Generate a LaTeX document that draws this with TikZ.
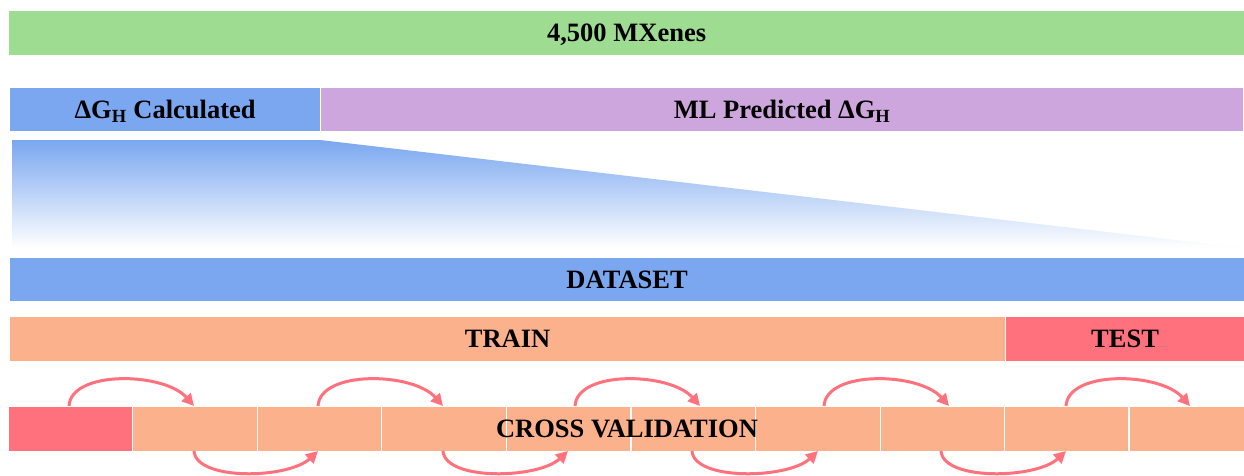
\documentclass[tikz,border=0pt]{standalone}
\usepackage{fontspec}
\setmainfont{Liberation Serif}
\usetikzlibrary{arrows.meta}
\definecolor{cgreen}{RGB}{158,220,146}
\definecolor{cblue}{RGB}{122,167,240}
\definecolor{cpurple}{RGB}{204,166,220}
\definecolor{corange}{RGB}{251,177,140}
\definecolor{cred}{RGB}{255,114,125}
\tikzset{
  lbl/.style={font=\fontsize{26.5}{30}\selectfont\bfseries, text=black, text height=17.5pt, text depth=0pt},
  bar/.style={rectangle, inner sep=0pt, draw=white, line width=1.2pt, anchor=north west, lbl},
  cvarrow/.style={draw=cred, line width=3pt, -{Triangle[length=12pt,width=12pt]}},
}
\begin{document}
\begin{tikzpicture}[x=1pt,y=-1pt]
\useasboundingbox[fill=white] (0,0) rectangle (1244,476);
% top bars
\node[bar, fill=cgreen, minimum width=1236pt, minimum height=45pt] (mx) at (8,10) {4,500 MXenes};
\node[bar, fill=cblue, minimum width=311pt, minimum height=44pt] (calc) at (9,87) {ΔG\textsubscript{H} Calculated};
\node[bar, fill=cpurple, minimum width=923pt, minimum height=44pt] (pred) at (320,87) {ML Predicted ΔG\textsubscript{H}};
% gradient wedge
\shade[top color=cblue, bottom color=white] (12,140) -- (320,140) -- (1244,248) -- (12,248) -- cycle;
% dataset
\node[bar, fill=cblue, minimum width=1235pt, minimum height=44pt] (data) at (9,257) {DATASET};
\node[bar, fill=corange, minimum width=996pt, minimum height=45pt] (train) at (9,316) {TRAIN};
\node[bar, fill=cred, minimum width=239pt, minimum height=45pt] (test) at (1005,316) {TEST};
% cross validation boxes
\node[bar, fill=cred, minimum width=124.6pt, minimum height=45pt] (cv0) at (7.4,406) {};
\foreach \i in {1,...,8}{
  \node[bar, fill=corange, minimum width=124.6pt, minimum height=45pt] (cv\i) at ({7.4+124.6*\i},406) {};
}
\node[bar, fill=corange, minimum width=115.6pt, minimum height=45pt] (cv9) at (1128.4,406) {};
\node[lbl] (cvlabel) at (627,429) {CROSS VALIDATION};
% coordinates for arcs
\coordinate (t0) at (69,406);
\coordinate (t1) at (194,406);
\coordinate (t2) at (318,406);
\coordinate (t3) at (443,406);
\coordinate (t4) at (575,406);
\coordinate (t5) at (700,406);
\coordinate (t6) at (824,406);
\coordinate (t7) at (949,406);
\coordinate (t8) at (1066,406);
\coordinate (t9) at (1190,406);
\coordinate (b1) at (194,451);
\coordinate (b2) at (318,451);
\coordinate (b3) at (443,451);
\coordinate (b4) at (568,451);
\coordinate (b5) at (692,451);
\coordinate (b6) at (818,451);
\coordinate (b7) at (941,451);
\coordinate (b8) at (1066,451);
% top arcs
\foreach \a/\b in {t0/t1,t2/t3,t4/t5,t6/t7,t8/t9}{
  \draw[cvarrow] (\a) .. controls +(2,-36) and +(-30,-34) .. (\b);
}
% bottom arcs
\foreach \a/\b in {b1/b2,b3/b4,b5/b6,b7/b8}{
  \draw[cvarrow] (\a) .. controls +(2,30) and +(-30,28) .. (\b);
}
\end{tikzpicture}
\end{document}
